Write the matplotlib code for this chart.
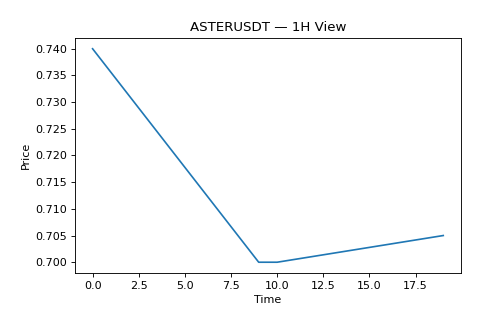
import matplotlib
matplotlib.use("Agg")
import matplotlib.pyplot as plt

# hourly closes
time = list(range(20))
price = [0.740000, 0.735556, 0.731111, 0.726667, 0.722222, 0.717778, 0.713333, 0.708889, 0.704444, 0.700000,
         0.700000, 0.700556, 0.701111, 0.701667, 0.702222, 0.702778, 0.703333, 0.703889, 0.704444, 0.705000]

fig, ax = plt.subplots(figsize=(481 / 80, 328 / 80), dpi=80)
fig.subplots_adjust(left=0.156, right=0.958, top=0.884, bottom=0.168)

ax.plot(time, price, color='#1f77b4')
ax.set_title('ASTERUSDT — 1H View')
ax.set_xlabel('Time')
ax.set_ylabel('Price')
ax.set_xticks([0, 2.5, 5, 7.5, 10, 12.5, 15, 17.5])
ax.set_yticks([0.700, 0.705, 0.710, 0.715, 0.720, 0.725, 0.730, 0.735, 0.740])

plt.savefig('out.png', dpi=80)
